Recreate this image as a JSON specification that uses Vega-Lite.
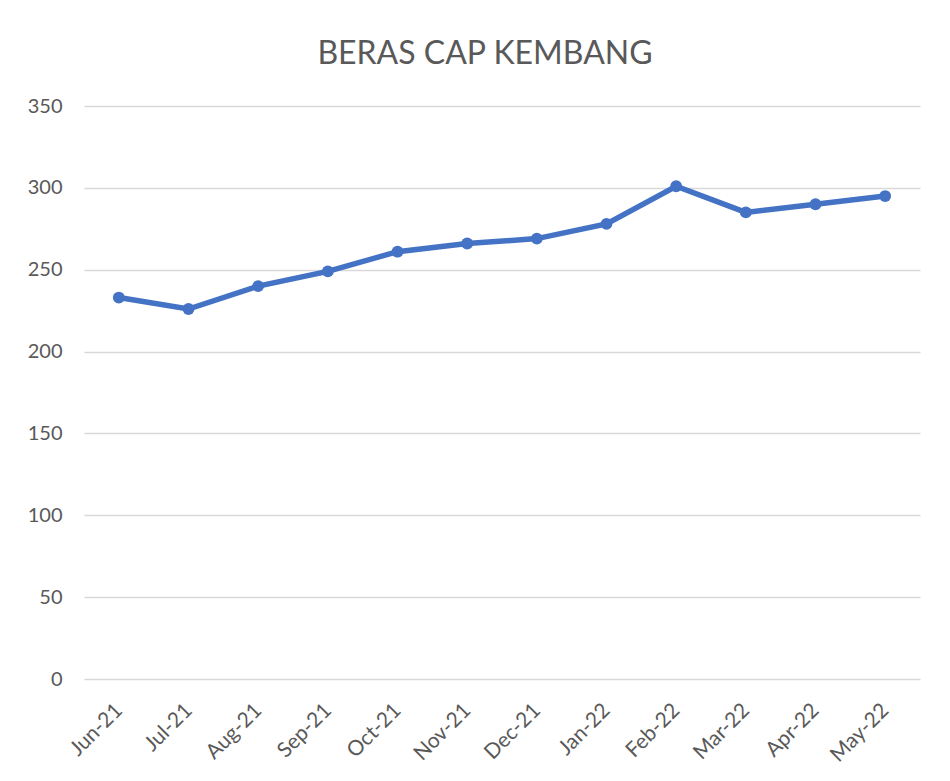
{
  "$schema": "https://vega.github.io/schema/vega-lite/v6.json",
  "width": 836,
  "height": 573,
  "autosize": "none",
  "padding": {"left": 84, "top": 106, "right": 30, "bottom": 102},
  "background": "white",
  "title": {
    "text": "BERAS CAP KEMBANG",
    "font": "Lato",
    "fontSize": 32,
    "fontWeight": "normal",
    "color": "#595959",
    "anchor": "middle",
    "dx": -17,
    "baseline": "alphabetic",
    "offset": 0
  },
  "data": {
    "values": [
      {"month": "Jun-21", "value": 233},
      {"month": "Jul-21", "value": 226},
      {"month": "Aug-21", "value": 240},
      {"month": "Sep-21", "value": 249},
      {"month": "Oct-21", "value": 261},
      {"month": "Nov-21", "value": 266},
      {"month": "Dec-21", "value": 269},
      {"month": "Jan-22", "value": 278},
      {"month": "Feb-22", "value": 301},
      {"month": "Mar-22", "value": 285},
      {"month": "Apr-22", "value": 290},
      {"month": "May-22", "value": 295}
    ]
  },
  "mark": {
    "type": "line",
    "color": "#4472C4",
    "strokeWidth": 5.5,
    "point": {"filled": true, "size": 140, "color": "#4472C4"}
  },
  "encoding": {
    "x": {
      "field": "month",
      "type": "ordinal",
      "sort": null,
      "scale": {"type": "point", "padding": 0.5},
      "axis": {
        "title": null,
        "labelAngle": -45,
        "labelAlign": "right",
        "labelBaseline": "middle",
        "labelFont": "Lato",
        "labelFontSize": 21,
        "labelColor": "#595959",
        "labelPadding": 28,
        "ticks": false,
        "domain": false,
        "grid": false
      }
    },
    "y": {
      "field": "value",
      "type": "quantitative",
      "scale": {"domain": [0, 350], "nice": false},
      "axis": {
        "title": null,
        "values": [0, 50, 100, 150, 200, 250, 300, 350],
        "labelFont": "Lato",
        "labelFontSize": 20,
        "labelColor": "#595959",
        "labelPadding": 22,
        "ticks": false,
        "domain": false,
        "gridColor": "#D9D9D9",
        "gridWidth": 1.5
      }
    }
  },
  "config": {"view": {"stroke": null}}
}
